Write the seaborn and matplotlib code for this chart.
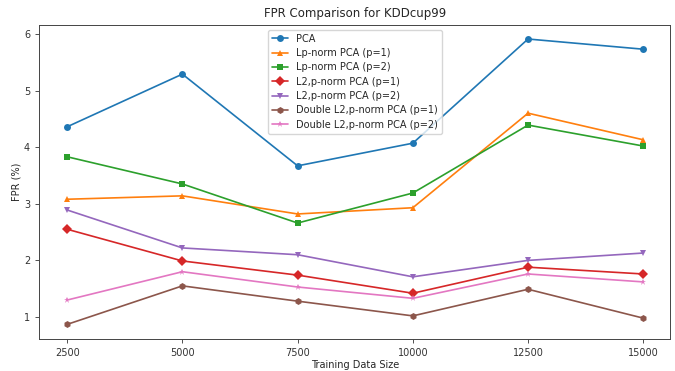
import matplotlib
matplotlib.use("Agg")
import matplotlib.pyplot as plt
import seaborn as sns
import pandas as pd

sizes = [2500, 5000, 7500, 10000, 12500, 15000]
methods = ["PCA", "Lp-norm PCA (p=1)", "Lp-norm PCA (p=2)", "L2,p-norm PCA (p=1)",
           "L2,p-norm PCA (p=2)", "Double L2,p-norm PCA (p=1)", "Double L2,p-norm PCA (p=2)"]
pca = [4.36, 5.29, 3.67, 4.07, 5.91, 5.73]
lp1 = [3.08, 3.14, 2.82, 2.93, 4.60, 4.13]
lp2 = [3.83, 3.35, 2.66, 3.19, 4.39, 4.02]
l2p1 = [2.55, 1.99, 1.74, 1.42, 1.88, 1.76]
l2p2 = [2.89, 2.22, 2.10, 1.71, 2.00, 2.13]
dbl1 = [0.87, 1.55, 1.28, 1.02, 1.49, 0.98]
dbl2 = [1.30, 1.80, 1.53, 1.33, 1.76, 1.62]
series = [pca, lp1, lp2, l2p1, l2p2, dbl1, dbl2]
marker_list = ["o", "^", "s", "D", "v", "h", "*"]

rows = []
for m, vals in zip(methods, series):
    for s, v in zip(sizes, vals):
        rows.append({"size": s, "fpr": v, "method": m})
df = pd.DataFrame(rows)

sns.set_style("ticks")
plt.rcParams["font.family"] = ["DejaVu Sans"]
fig, ax = plt.subplots(figsize=(6.75, 3.71), dpi=100)
palette = sns.color_palette("tab10", 7)
sns.lineplot(data=df, x="size", y="fpr", hue="method", style="method",
             hue_order=methods, style_order=methods, palette=palette,
             markers=dict(zip(methods, marker_list)), dashes=False,
             markersize=5, markeredgewidth=0, linewidth=1.2, ax=ax)
ax.set_xticks(sizes)
ax.set_xticklabels([str(s) for s in sizes], fontsize=7)
ax.set_yticks([1, 2, 3, 4, 5, 6])
ax.tick_params(axis="both", labelsize=7, length=3, width=0.6, colors="#333333")
ax.set_ylim(0.61, 6.16)
ax.set_xlim(1892, 15586)
ax.set_xlabel("Training Data Size", fontsize=7, labelpad=1.5)
ax.set_ylabel("FPR (%)", fontsize=7, labelpad=2)
ax.set_title("FPR Comparison for KDDcup99", fontsize=8.5)
for sp in ax.spines.values():
    sp.set_linewidth(0.7)
    sp.set_color("#444444")
ax.legend(loc="upper center", fontsize=7, frameon=True, framealpha=0.8,
          edgecolor="#cccccc", borderpad=0.4, labelspacing=0.45, handlelength=1.7)
fig.subplots_adjust(left=0.058, right=0.993, top=0.933, bottom=0.086)
fig.savefig("out.png", dpi=100)
